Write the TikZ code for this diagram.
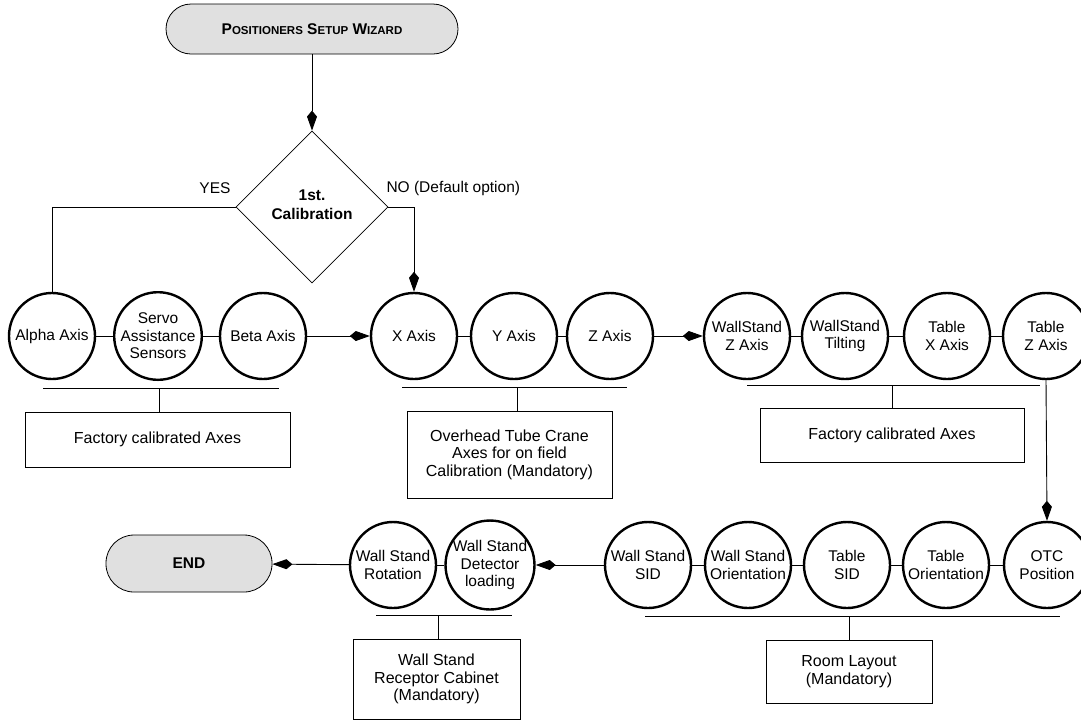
\documentclass[tikz,border=0pt]{standalone}
\usepackage{fontspec}
\setmainfont{Liberation Sans}
\usetikzlibrary{shapes.geometric,arrows.meta}
\definecolor{termgray}{HTML}{E0E0E0}
\tikzset{
  every node/.style={font=\fontsize{15.5}{17.5}\selectfont, align=center},
  axis/.style={circle, draw, line width=2.4pt, minimum size=86pt, inner sep=0pt},
  infobox/.style={rectangle, draw, line width=0.9pt, inner sep=0pt, font=\fontsize{16}{17.5}\selectfont},
  term/.style={rectangle, draw, line width=0.8pt, fill=termgray, inner sep=0pt},
  link/.style={line width=0.9pt},
  flow/.style={line width=0.9pt, -{Kite[length=20pt,width=10pt,inset=6pt]}},
}
\begin{document}
\begin{tikzpicture}[x=1pt,y=-1pt]
\useasboundingbox (0,0) rectangle (1081,721);
% terminals
\node[term, rounded corners=25pt, minimum width=292pt, minimum height=50pt] (wiz) at (312,29)
  {\bfseries\fontsize{15.5}{17}\selectfont P{\fontsize{11.5}{13}\selectfont OSITIONERS} S{\fontsize{11.5}{13}\selectfont ETUP} W{\fontsize{11.5}{13}\selectfont IZARD}};
\node[diamond, draw, line width=0.8pt, aspect=1, minimum size=152pt, inner sep=0pt] (cal) at (312,207) {};
\node[font=\bfseries\fontsize{15.5}{19}\selectfont] (caltxt) at (312,205) {1st.\\Calibration};
\node[term, rounded corners=28pt, minimum width=166pt, minimum height=57pt, font=\bfseries\fontsize{15.5}{17}\selectfont] (end) at (189,563.5) {END};
% row 1
\node[axis] (alpha) at (52,336) {Alpha Axis};
\node[axis] (servo) at (158,336) {Servo\\Assistance\\Sensors};
\node[axis] (beta) at (263,336) {Beta Axis};
\node[axis] (xax) at (414,336) {X Axis};
\node[axis] (yax) at (514,336) {Y Axis};
\node[axis] (zax) at (610,336) {Z Axis};
\node[axis] (wsz) at (747,336) {WallStand\\Z Axis};
\node[axis] (wst) at (845,336) {WallStand\\Tilting};
\node[axis] (tx) at (947,336) {Table\\X Axis};
\node[axis] (tz) at (1046,336) {Table\\Z Axis};
% row 2
\node[axis] (otc) at (1047,565) {OTC\\Position};
\node[axis] (to) at (946,565) {Table\\Orientation};
\node[axis] (tsid) at (847,565) {Table\\SID};
\node[axis] (wso) at (748,565) {Wall Stand\\Orientation};
\node[axis] (wssid) at (648,565) {Wall Stand\\SID};
\node[axis] (det) at (490,565) {Wall Stand\\Detector\\loading};
\node[axis] (rot) at (393,565) {Wall Stand\\Rotation};
% info boxes
\node[infobox, minimum width=265pt, minimum height=55pt] (box1) at (157.5,439.5) {Factory calibrated Axes};
\node[infobox, minimum width=205pt, minimum height=87pt] (box2) at (509.5,454.5) {Overhead Tube Crane\\Axes for on field\\Calibration (Mandatory)};
\node[infobox, minimum width=264pt, minimum height=54pt] (box3) at (892,435) {Factory calibrated Axes};
\node[infobox, minimum width=166pt, minimum height=63pt] (box4) at (849,671.5) {Room Layout\\(Mandatory)};
\node[infobox, minimum width=167pt, minimum height=80pt] (box5) at (436.5,679) {Wall Stand\\Receptor Cabinet\\(Mandatory)};
% labels
\node (yes) at (215,188) {YES};
\node[anchor=west] (no) at (383,188) {NO (Default option)};
% flow
\draw[flow] (wiz.south) -- (cal.north);
\draw[link] (cal.west) -| (alpha.north);
\draw[flow] (cal.east) -| (xax.north);
\draw[link] (alpha) -- (servo);
\draw[link] (servo) -- (beta);
\draw[flow] (beta) -- (xax);
\draw[link] (xax) -- (yax);
\draw[link] (yax) -- (zax);
\draw[flow] (zax) -- (wsz);
\draw[link] (wsz) -- (wst);
\draw[link] (wst) -- (tx);
\draw[link] (tx) -- (tz);
\draw[flow] (tz.south) -- (otc.north);
\draw[link] (otc) -- (to);
\draw[link] (to) -- (tsid);
\draw[link] (tsid) -- (wso);
\draw[link] (wso) -- (wssid);
\draw[flow] (wssid) -- (det);
\draw[link] (det) -- (rot);
\draw[flow] (rot) -- (end);
% brackets
\coordinate (b1l) at (43,388); \coordinate (b1r) at (279,388); \coordinate (b1m) at (159,388);
\draw[link] (b1l) -- (b1r); \draw[link] (b1m) -- (b1m |- box1.north);
\coordinate (b2l) at (402,387); \coordinate (b2r) at (627,387); \coordinate (b2m) at (517,387);
\draw[link] (b2l) -- (b2r); \draw[link] (b2m) -- (b2m |- box2.north);
\coordinate (b3l) at (747,385); \coordinate (b3r) at (1040,385); \coordinate (b3m) at (892,385);
\draw[link] (b3l) -- (b3r); \draw[link] (b3m) -- (box3.north);
\coordinate (b4l) at (645,616); \coordinate (b4r) at (1060,616); \coordinate (b4m) at (849,616);
\draw[link] (b4l) -- (b4r); \draw[link] (b4m) -- (box4.north);
\coordinate (b5l) at (376,615); \coordinate (b5r) at (512,615); \coordinate (b5m) at (438,615);
\draw[link] (b5l) -- (b5r); \draw[link] (b5m) -- (b5m |- box5.north);
\end{tikzpicture}
\end{document}
